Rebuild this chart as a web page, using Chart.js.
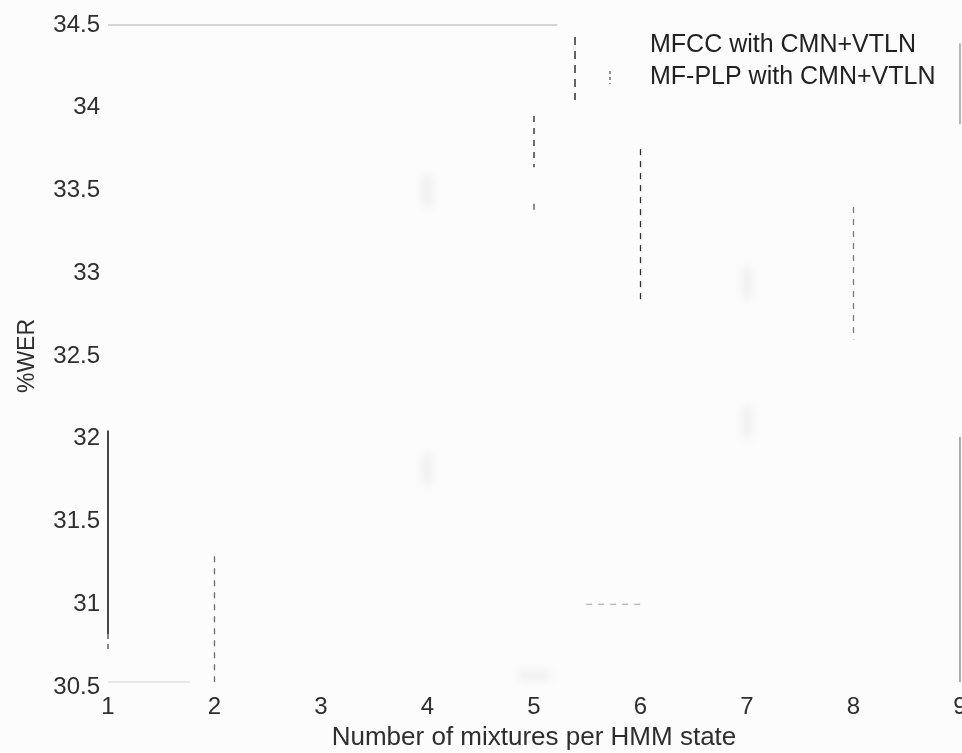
<!DOCTYPE html>
<html>
<head>
<meta charset="utf-8">
<script src="https://cdn.jsdelivr.net/npm/chart.js@4.4.1/dist/chart.umd.min.js"></script>
<style>
  html, body { margin: 0; padding: 0; background: #fdfcfc; }
  #wrap { width: 962px; height: 753px; }
  canvas { filter: blur(0.55px); }
</style>
</head>
<body>
<div id="wrap"><canvas id="c" width="962" height="753"></canvas></div>
<script>
// Axis ranges and tick labels
const mixtureTicks = [1, 2, 3, 4, 5, 6, 7, 8, 9];
const werTicks = [30.5, 31, 31.5, 32, 32.5, 33, 33.5, 34, 34.5];

// Legend entries
const seriesNames = ['MFCC with CMN+VTLN', 'MF-PLP with CMN+VTLN'];

// MFCC with CMN+VTLN: solid trace
const mfccX = [1, 1];
const mfccY = [32.05, 30.82];
const mfccTailX = [1, 1];
const mfccTailY = [30.82, 30.71];

// MF-PLP with CMN+VTLN: dashed traces (null separates pieces)
const plpX = [2, 2, null, 5, 5, null, 5, 5, null, 6, 6, null, 8, 8, null, 5.49, 6.03];
const plpY = [31.29, 30.53, null, 33.95, 33.64, null, 33.42, 33.37, null, 33.75, 32.83, null, 33.40, 32.60, null, 31.0, 31.0];

// Remaining pieces of the axes box
const boxX = [1, 5.22, null, 9, 9, null, 9, 9, null, 1, 1.77];
const boxY = [34.5, 34.5, null, 34.39, 33.90, null, 32.01, 30.53, null, 30.53, 30.53];

// Faint smudges on the plot
const smudgeX = [4, 4, 7, 7, 5];
const smudgeY = [33.5, 31.82, 32.94, 32.1, 30.57];
const smudgeAngle = [90, 90, 90, 90, 0];

// split flat x/y lists at nulls into point lists
function pieces(xs, ys) {
  const out = [];
  let cur = [];
  xs.forEach((x, i) => {
    if (x === null || ys[i] === null) {
      if (cur.length) out.push(cur);
      cur = [];
    } else {
      cur.push({ x: x, y: ys[i] });
    }
  });
  if (cur.length) out.push(cur);
  return out;
}

function lineSet(pts, style) {
  return Object.assign({
    type: 'line',
    data: pts,
    pointRadius: 0,
    fill: false,
    tension: 0,
    clip: false
  }, style);
}

const plpColors = ['#6a6a6a', '#222222', '#555555', '#2e2e2e', '#7a7a7a', '#b4b4b4'];
const boxColors = ['#c9c9c9', '#9a9a9a', '#8c8c8c', '#e2e2e2'];

const datasets = [];
pieces(mfccX, mfccY).forEach(pts => datasets.push(lineSet(pts, { borderColor: '#1a1a1a', borderWidth: 1.6 })));
pieces(mfccTailX, mfccTailY).forEach(pts => datasets.push(lineSet(pts, { borderColor: '#555', borderWidth: 1.4, borderDash: [5, 5] })));
pieces(plpX, plpY).forEach((pts, i) => datasets.push(lineSet(pts, {
  borderColor: plpColors[i % plpColors.length], borderWidth: 1.3, borderDash: [6, 6]
})));
pieces(boxX, boxY).forEach((pts, i) => datasets.push(lineSet(pts, { borderColor: boxColors[i], borderWidth: 1.4 })));
datasets.push({
  type: 'scatter',
  label: 'smudge',
  data: smudgeX.map((x, i) => ({ x: x, y: smudgeY[i] })),
  pointStyle: 'line',
  pointRotation: smudgeAngle,
  pointRadius: 16,
  borderWidth: 11,
  borderColor: 'rgba(0,0,0,0.05)',
  backgroundColor: 'rgba(0,0,0,0.05)',
  clip: false
});

const fontFamily = '"Liberation Sans", Arial, Helvetica, sans-serif';

// soft background + smudge blur + legend
const pagePlugin = {
  id: 'page',
  beforeDraw(chart) {
    const ctx = chart.ctx;
    ctx.save();
    ctx.fillStyle = '#fdfcfc';
    ctx.fillRect(0, 0, chart.width, chart.height);
    ctx.restore();
  },
  beforeDatasetDraw(chart, args) {
    if (chart.data.datasets[args.index].label === 'smudge') {
      chart.ctx.save();
      chart.ctx.filter = 'blur(5px)';
    }
  },
  afterDatasetDraw(chart, args) {
    if (chart.data.datasets[args.index].label === 'smudge') {
      chart.ctx.restore();
    }
  },
  afterDraw(chart) {
    const ctx = chart.ctx;
    ctx.save();
    // legend samples
    ctx.strokeStyle = '#222';
    ctx.lineWidth = 1.4;
    ctx.setLineDash([8, 6]);
    ctx.beginPath();
    ctx.moveTo(575, 37);
    ctx.lineTo(575, 100);
    ctx.stroke();
    ctx.strokeStyle = '#666';
    ctx.setLineDash([3, 3]);
    ctx.beginPath();
    ctx.moveTo(610, 71);
    ctx.lineTo(610, 84);
    ctx.stroke();
    ctx.setLineDash([]);
    // legend text
    ctx.fillStyle = '#222';
    ctx.font = '25px ' + fontFamily;
    ctx.textAlign = 'left';
    ctx.textBaseline = 'middle';
    ctx.fillText(seriesNames[0], 650, 45);
    ctx.fillText(seriesNames[1], 650, 77);
    ctx.restore();
  }
};

new Chart(document.getElementById('c'), {
  data: { datasets: datasets },
  options: {
    responsive: false,
    animation: false,
    events: [],
    layout: { autoPadding: false, padding: { top: 25, right: 2, left: 0, bottom: 0 } },
    plugins: { legend: { display: false }, tooltip: { enabled: false } },
    scales: {
      x: {
        type: 'linear',
        min: mixtureTicks[0],
        max: mixtureTicks[mixtureTicks.length - 1],
        afterBuildTicks(scale) { scale.ticks = mixtureTicks.map(v => ({ value: v })); },
        afterFit(scale) {
          scale.height = 66;
          scale.paddingLeft = 0;
          scale.paddingRight = 0;
        },
        grid: { display: false, drawTicks: false, tickLength: 0 },
        border: { display: false },
        ticks: {
          padding: 6,
          color: '#2e2e2e',
          font: { family: fontFamily, size: 24 },
          maxRotation: 0,
          autoSkip: false,
          callback: v => String(v)
        },
        title: {
          display: true,
          text: 'Number of mixtures per HMM state',
          color: '#2e2e2e',
          font: { family: fontFamily, size: 26 },
          padding: { top: 0, bottom: 0 }
        }
      },
      y: {
        type: 'linear',
        min: werTicks[0],
        max: werTicks[werTicks.length - 1],
        afterBuildTicks(scale) { scale.ticks = werTicks.map(v => ({ value: v })); },
        afterFit(scale) {
          scale.width = 108;
          scale.paddingTop = 0;
          scale.paddingBottom = 0;
        },
        grid: { display: false, drawTicks: false, tickLength: 0 },
        border: { display: false },
        ticks: {
          padding: 8,
          color: '#2e2e2e',
          font: { family: fontFamily, size: 24 },
          autoSkip: false,
          callback: v => String(v)
        },
        title: {
          display: true,
          text: '%WER',
          color: '#2e2e2e',
          font: { family: fontFamily, size: 23 },
          padding: { top: 14, bottom: 0 }
        }
      }
    }
  },
  plugins: [pagePlugin]
});
</script>
</body>
</html>
